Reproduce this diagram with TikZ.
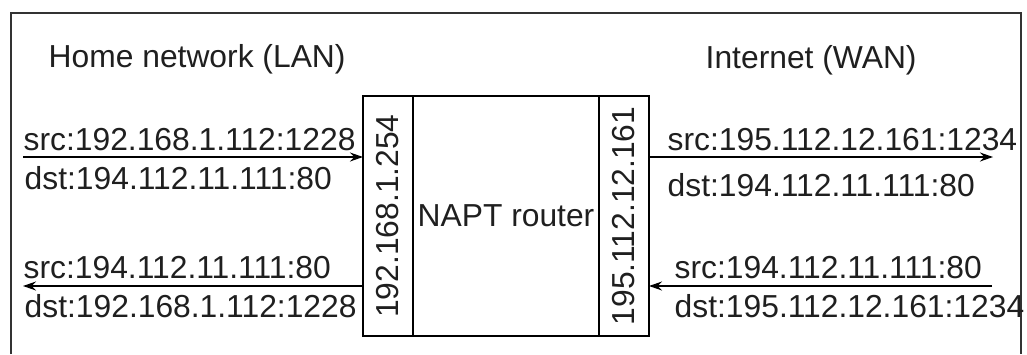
\documentclass[tikz,border=0pt]{standalone}
\usepackage{fontspec}
\setmainfont{Liberation Sans}
\usetikzlibrary{positioning, arrows.meta}

\tikzset{
    lbl/.style={anchor=base west, inner sep=0pt},
    cell/.style={draw, outer sep=0pt, inner sep=0pt, minimum height=120pt},
    pkt/.style={-{Stealth[length=6.5pt, width=4.5pt]}, line width=0.6pt}
}

\begin{document}
\begin{tikzpicture}[x=0.5pt, y=-0.5pt, line width=0.7pt, every node/.style={font=\fontsize{15.9}{19}\selectfont, text=black!88}]

        \useasboundingbox (0,0) rectangle (1027,354);
        \draw[black!80] (11,354) |- (1021,13) -- (1021,354);

        \node[cell, minimum width=25pt] (lanif) at (388,216) {};
        \node[cell, minimum width=93pt, right=0pt of lanif] (router) {NAPT router};
        \node[cell, minimum width=25pt, right=0pt of router] (wanif) {};
        \node[rotate=90] (lanip) at (lanif) {192.168.1.254};
        \node[rotate=90] (wanip) at (wanif) {195.112.12.161};

        \node[lbl] (lan) at (48,67) {Home network (LAN)};
        \node[lbl] (wan) at (705,68) {Internet (WAN)};

        \node[lbl] (lansrc1) at (23,150) {src:192.168.1.112:1228};
        \node[lbl] (landst1) at (24,189) {dst:194.112.11.111:80};
        \node[lbl] (lansrc2) at (23,278) {src:194.112.11.111:80};
        \node[lbl] (landst2) at (24,317) {dst:192.168.1.112:1228};
        \node[lbl] (wansrc1) at (667,150) {src:195.112.12.161:1234};
        \node[lbl] (wandst1) at (667,196) {dst:194.112.11.111:80};
        \node[lbl] (wansrc2) at (674,278) {src:194.112.11.111:80};
        \node[lbl] (wandst2) at (674,317) {dst:195.112.12.161:1234};

        \coordinate (lanout1) at (23,157);
        \coordinate (lanout2) at (23,286);
        \coordinate (wanout1) at (993,157);
        \coordinate (wanout2) at (992,286);
        \draw[pkt] (lanout1) -- (lanout1 -| lanif.west);
        \draw[pkt] (lanout2 -| lanif.west) -- (lanout2);
        \draw[pkt] (wanout1 -| wanif.east) -- (wanout1);
        \draw[pkt] (wanout2) -- (wanout2 -| wanif.east);

    \end{tikzpicture}
\end{document}
